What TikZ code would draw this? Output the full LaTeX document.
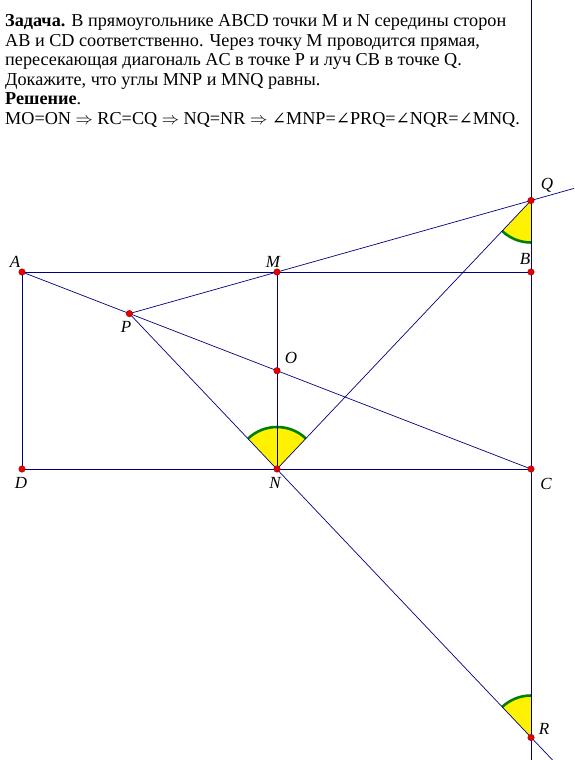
\documentclass[tikz,border=0pt]{standalone}
\usepackage{fontspec}
\setmainfont{Liberation Serif}
\newfontfamily\symf{DejaVu Serif}
\usetikzlibrary{angles}
\definecolor{ln}{RGB}{0,0,128}
\definecolor{arcg}{RGB}{0,128,0}
\definecolor{dotr}{RGB}{230,0,0}
\newcommand{\angsym}{{\symf\fontsize{17}{17}\selectfont ∠}}
\begin{document}
\begin{tikzpicture}[x=1pt,y=-1pt,
  seg/.style={draw=ln,line width=0.9pt},
  thin seg/.style={draw=ln,line width=0.7pt},
  ang/.style={fill=yellow,draw=arcg,line width=2.6pt,angle radius=42pt},
  pt/.style={circle,fill=dotr,draw=red!60!black,line width=0.4pt,inner sep=0pt,minimum size=6.5pt},
  lab/.style={font=\fontsize{17}{17}\selectfont\itshape,inner sep=0pt},
  txt/.style={anchor=base west,inner sep=0pt,font=\fontsize{18.2}{18.2}\selectfont}]
\useasboundingbox[fill=white] (0,0) rectangle (574,760);
% points
\coordinate (A) at (22,272);
\coordinate (B) at (531,272);
\coordinate (C) at (531,469);
\coordinate (D) at (22,469);
\coordinate (M) at (277,272);
\coordinate (N) at (277,469);
\coordinate (O) at (277,370.7);
\coordinate (P) at (129.4,313.6);
\coordinate (Q) at (531,200.5);
\coordinate (R) at (531,737.5);
\coordinate (Vt) at (531,0);
\coordinate (Vb) at (531,760);
\coordinate (Qe) at (574,188.4);
\coordinate (Re) at (552.5,760);
% angles
\pic[ang] {angle=Q--N--P};
\pic[ang] {angle=N--Q--B};
\pic[ang] {angle=Q--R--N};
% lines
\draw[seg] (A) -- (B);
\draw[seg] (D) -- (C);
\draw[seg] (A) -- (D);
\draw[seg] (M) -- (N);
\draw[seg] (Vt) -- (Vb);
\draw[thin seg] (A) -- (C);
\draw[thin seg] (P) -- (Qe);
\draw[thin seg] (P) -- (Re);
\draw[thin seg] (Q) -- (N);
% dots
\foreach \p in {A,B,C,D,M,N,O,P,Q,R} \node[pt] (d\p) at (\p) {};
% labels
\node[lab] (lA) at (15,262) {A};
\node[lab] (lM) at (273,262) {M};
\node[lab] (lB) at (525,259) {B};
\node[lab] (lQ) at (547,185) {Q};
\node[lab] (lP) at (126,327) {P};
\node[lab] (lO) at (291,358) {O};
\node[lab] (lN) at (275,483) {N};
\node[lab] (lR) at (544,729) {R};
\node[lab] (lD) at (21,483) {D};
\node[lab] (lC) at (546,484) {C};
% text
\node[txt] (t1) at (5,26.5) {\textbf{Задача.} В прямоугольнике ABCD точки M и N середины сторон};
\node[txt] (t2) at (5,46.1) {AB и CD соответственно. Через точку M проводится прямая,};
\node[txt] (t3) at (5,65.7) {пересекающая диагональ AC в точке P и луч CB в точке Q.};
\node[txt] (t4) at (5,85.3) {Докажите, что углы MNP и MNQ равны.};
\node[txt] (t5) at (5,104.9) {\textbf{Решение}.};
\node[txt] (t6) at (5,124.5) {MO=ON $\Rightarrow$ RC=CQ $\Rightarrow$ NQ=NR $\Rightarrow$ \angsym MNP=\angsym PRQ=\angsym NQR=\angsym MNQ.};
\end{tikzpicture}
\end{document}
